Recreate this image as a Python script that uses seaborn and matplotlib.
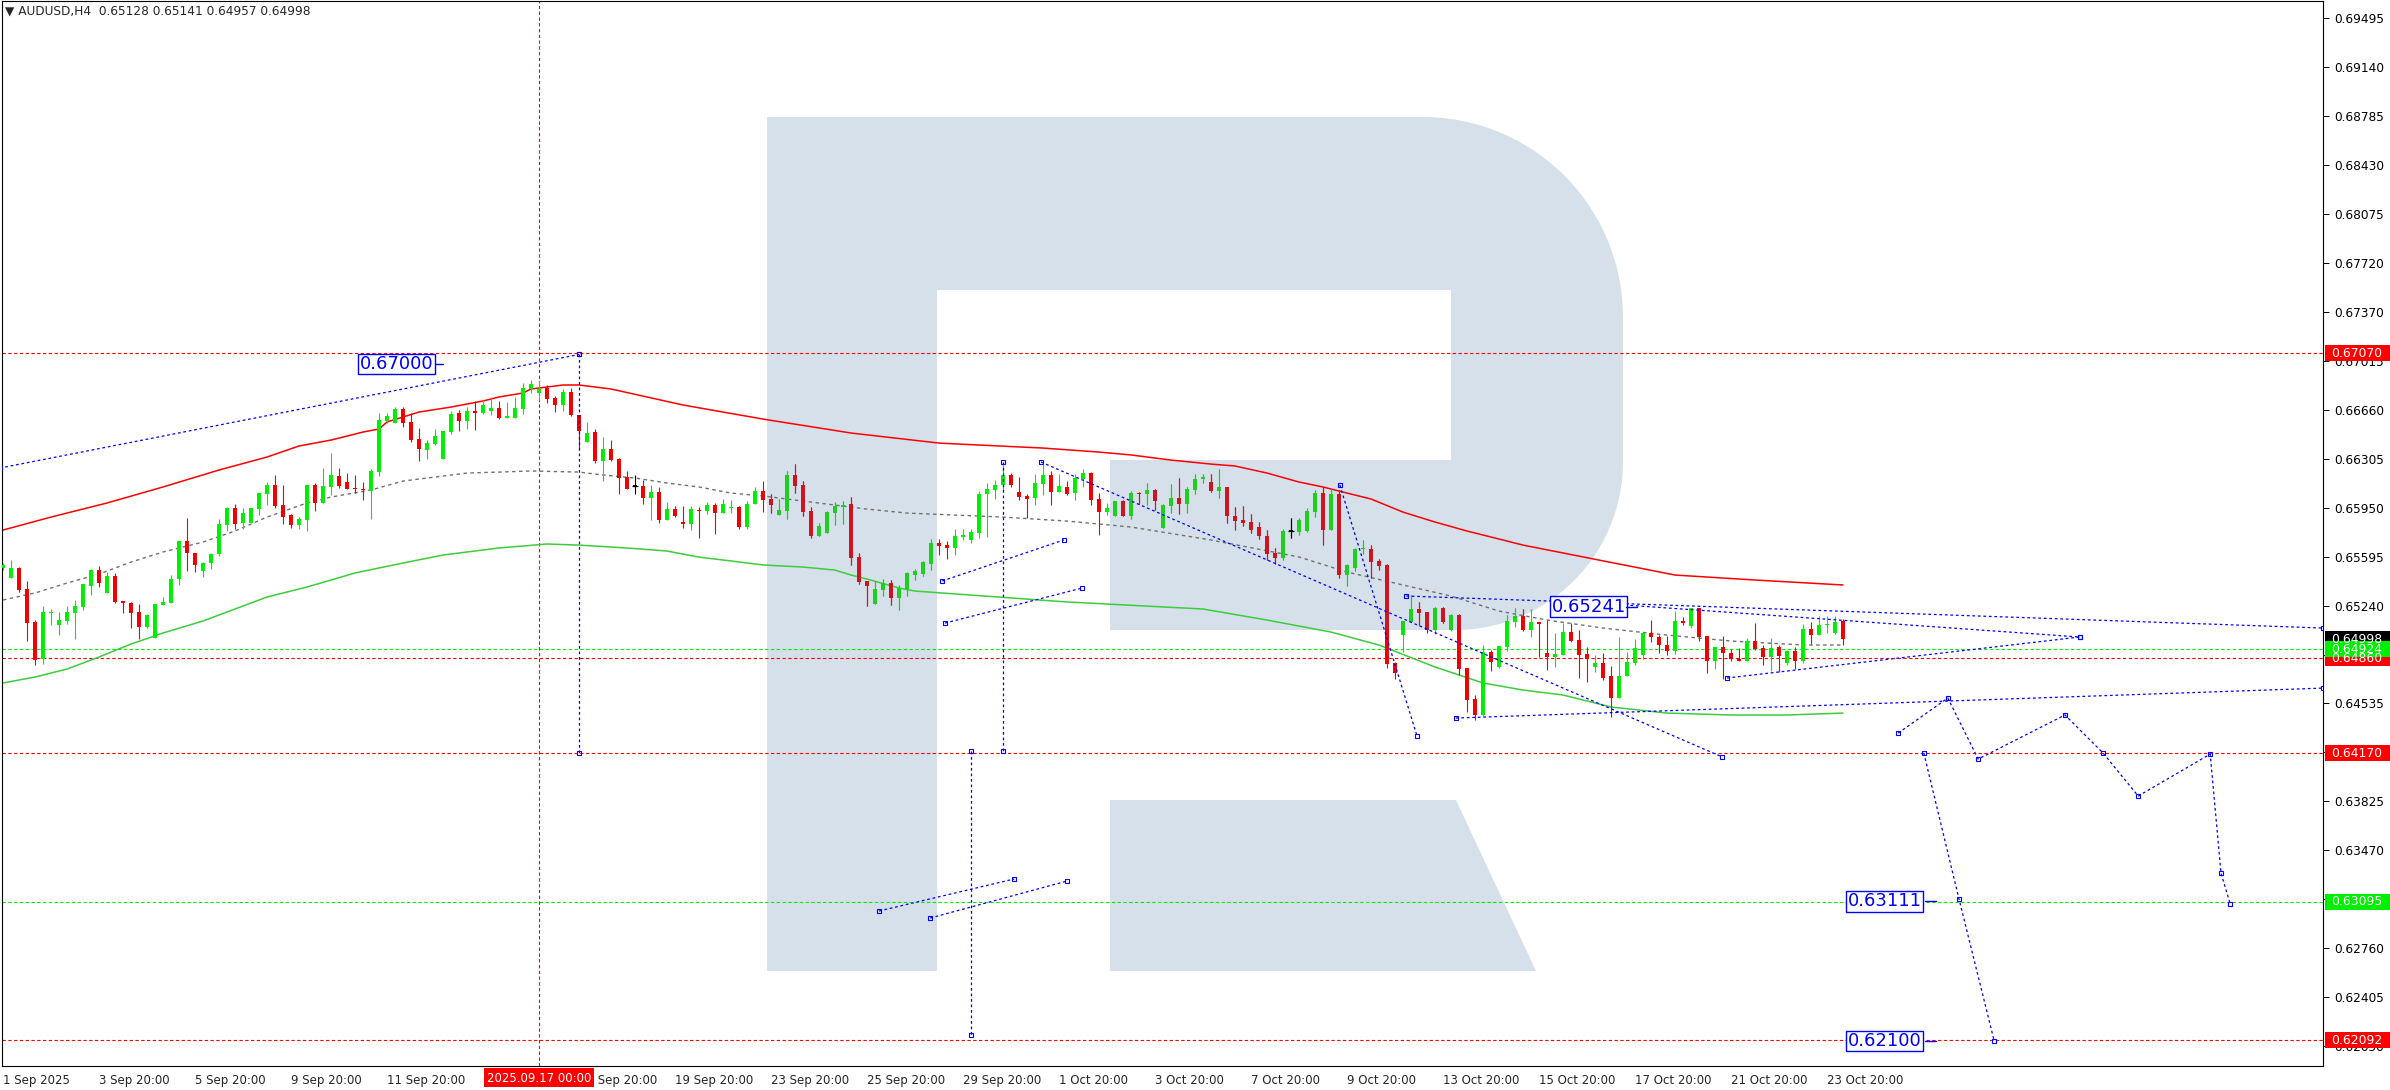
import numpy as np
import pandas as pd
import matplotlib
matplotlib.use("Agg")
import matplotlib.pyplot as plt
import matplotlib.transforms as mtransforms
from matplotlib.path import Path
from matplotlib.patches import PathPatch, Rectangle
import seaborn as sns

# ---------------------------------------------------------------- data
header_text = "\u25BC AUDUSD,H4  0.65128 0.65141 0.64957 0.64998"
PT = 1e-5  # prices below are given in points (0.00001)

open_pt = [65513,65440,65513,65361,65122,64854,65187,65100,65129,65187,65230,65382,65498,65332,65455,65274,65259,65194,65085,65006,
 65245,65259,65433,65708,65622,65491,65549,65614,65824,65948,65839,65839,65940,66049,66114,65969,65897,65824,65861,66114,
 65984,66100,66179,66136,66093,66085,66071,66208,66578,66563,66665,66571,66447,66368,66411,66303,66498,66636,66578,66650,
 66636,66650,66672,66600,66600,66665,66810,66781,66817,66745,66694,66788,66621,66426,66498,66288,66375,66303,66172,66107,
 66107,66020,66064,65861,65940,65846,65832,65933,65926,65969,65911,65948,65955,65810,65977,66071,66013,65897,65926,66187,
 66114,65926,65745,65766,65911,65955,65977,65593,65419,65252,65353,65404,65296,65361,65462,65469,65542,65694,65679,65657,
 65737,65716,65766,66049,66078,66114,66187,66064,66035,66020,66121,66187,66064,66100,66056,66158,66201,66013,65918,65890,
 65998,65890,66056,66049,66078,65803,65962,66020,65977,66078,66158,66136,66071,66100,65890,65861,65846,65810,65745,65622,
 65585,65781,65774,65781,65918,66056,65788,66049,65462,65513,65650,65650,65564,65535,64825,65027,65122,65216,65194,65064,
 65223,65064,65172,64789,64564,64448,64904,64796,64940,65122,65165,65064,65122,64897,64868,64883,65049,64991,64890,64796,
 64825,64730,64571,64730,64825,64883,65042,65013,64955,64912,65129,65093,65223,65020,64839,64940,64897,64854,64839,64984,
 64933,64868,64940,64825,64912,64839,65071,65027,65100,65042,65128]
high_pt = [65549,65571,65520,65419,65136,65238,65216,65194,65238,65281,65397,65506,65527,65484,65477,65274,65267,65252,65180,65252,
 65303,65462,65708,65875,65622,65556,65622,65868,65955,65977,65948,65948,66056,66136,66187,66114,65904,65882,66114,66129,
 66237,66346,66237,66201,66187,66136,66230,66636,66636,66679,66679,66636,66527,66440,66520,66505,66650,66658,66679,66723,
 66730,66752,66723,66716,66752,66853,66875,66875,66839,66759,66810,66817,66621,66571,66520,66462,66440,66310,66216,66187,
 66150,66114,66100,65991,65962,65962,65962,65955,65991,65984,66013,66006,65962,65998,66100,66143,66049,66013,66216,66266,
 66143,65955,65839,65926,65991,65998,66028,65622,65419,65419,65433,65426,65390,65484,65506,65564,65723,65723,65708,65795,
 65795,65795,66071,66129,66150,66259,66201,66172,66049,66194,66266,66216,66194,66143,66194,66230,66208,66056,65984,65998,
 66006,66071,66064,66129,66085,65977,66121,66165,66100,66194,66194,66194,66230,66100,65955,65962,65904,65846,65788,65658,
 65795,65875,65875,65948,66078,66100,66085,66078,65542,65658,65716,65679,65578,65542,64832,65129,65317,65267,65194,65230,
 65230,65180,65180,64789,64593,64955,64919,64948,65172,65223,65216,65216,65122,65136,65042,65114,65114,65064,64940,64883,
 64897,64803,65013,64904,64998,65042,65136,65027,65020,65201,65158,65223,65223,65020,64940,65020,64926,64933,65006,65114,
 64955,65006,64955,64919,64940,65107,65122,65165,65165,65165,65141]
low_pt = [65498,65440,65339,64984,64810,64817,65100,65027,65107,64998,65209,65317,65375,65332,65259,65187,65078,64998,65078,65006,
 65245,65259,65390,65491,65484,65448,65506,65600,65781,65795,65795,65839,65897,65969,65948,65832,65803,65795,65781,65926,
 65984,66042,66093,66085,66056,66006,65868,66179,66563,66563,66534,66426,66288,66303,66404,66303,66483,66505,66520,66513,
 66629,66621,66592,66600,66600,66629,66781,66730,66708,66643,66650,66614,66382,66426,66274,66143,66288,66049,66085,66049,
 65977,65861,65839,65861,65882,65803,65788,65730,65904,65759,65911,65911,65795,65795,65977,65918,65911,65897,65868,66056,
 65890,65730,65745,65766,65824,65832,65535,65397,65238,65252,65310,65245,65209,65310,65426,65455,65498,65607,65578,65607,
 65716,65694,65730,65737,66013,66078,66100,66006,65875,65969,66042,65969,66064,66042,66006,66100,65969,65752,65897,65890,
 65890,65868,65977,65969,65933,65803,65911,65904,65911,66049,66129,66064,66020,65839,65788,65817,65766,65723,65571,65542,
 65571,65730,65752,65774,65882,65679,65788,65440,65382,65491,65614,65440,65498,64788,64708,64904,65122,65100,65042,65035,
 65114,65056,64738,64470,64412,64440,64767,64788,64912,65085,65056,65013,64868,64774,64796,64883,64977,64716,64687,64759,
 64701,64433,64571,64730,64810,64854,64977,64897,64883,64890,65100,65078,64984,64752,64781,64708,64839,64839,64839,64919,
 64810,64767,64759,64810,64781,64825,64962,65027,65042,65035,64957]
close_pt = [65535,65513,65353,65114,64846,65194,65194,65136,65194,65238,65397,65498,65404,65455,65267,65259,65187,65085,65172,65252,
 65267,65433,65708,65622,65535,65549,65614,65832,65948,65832,65911,65948,66056,66114,65962,65882,65824,65868,66114,65984,
 66107,66187,66107,66085,66085,66078,66216,66585,66614,66665,66563,66440,66375,66418,66469,66505,66629,66578,66650,66636,
 66694,66672,66600,66614,66672,66817,66846,66810,66737,66694,66788,66621,66505,66491,66288,66375,66295,66165,66085,66107,
 66020,66064,65861,65940,65890,65832,65940,65926,65969,65911,65977,65955,65810,65977,66071,66006,65969,65933,66187,66107,
 65918,65745,65817,65918,65962,65969,65585,65412,65382,65361,65404,65296,65368,65477,65491,65556,65694,65672,65657,65745,
 65752,65774,66049,66085,66114,66187,66114,66027,66013,66129,66187,66064,66107,66049,66165,66201,66006,65918,65948,65998,
 65890,66056,66049,66078,65998,65969,66020,65977,66085,66158,66172,66071,66100,65890,65853,65839,65788,65745,65614,65585,
 65781,65781,65861,65926,66056,65788,66049,65462,65535,65650,65658,65556,65527,64817,64752,65129,65216,65187,65064,65223,
 65122,65172,64781,64557,64448,64904,64832,64948,65129,65165,65064,65122,65107,64868,64890,65049,64984,64883,64854,64825,
 64716,64571,64730,64832,64933,65042,65013,64955,64912,65129,65114,65223,65013,64839,64940,64897,64854,64839,64984,64926,
 64868,64933,64875,64912,64839,65071,65027,65100,65107,65122,64998]

# moving averages (bar index, points)
red_ma_bar = [0,6,13,20,27,33,37,41,45,47,48,50,52,56,60,62,65,66,70,72,76,85,95,106,117,122,130,137,141,146,
              151,154,158,162,165,168,171,175,179,183,187,190,209,219,230]
red_ma_pt = [65788,65882,65984,66100,66223,66317,66397,66440,66498,66520,66571,66607,66643,66679,66723,66752,66781,66810,66839,66839,
             66810,66694,66592,66491,66418,66404,66382,66353,66332,66295,66266,66252,66201,66136,66100,66056,66013,65918,65846,65781,
             65723,65679,65462,65426,65390]
green_ma_bar = [0,4,8,12,16,20,25,29,33,38,44,50,55,62,68,72,78,83,87,91,95,100,104,106,108,112,114,133,150,158,
                166,172,179,185,190,195,201,208,216,223,230]
green_ma_pt = [64680,64723,64781,64868,64962,65042,65129,65216,65303,65375,65477,65549,65607,65658,65687,65679,65658,65636,65592,65564,
               65535,65520,65498,65462,65433,65368,65346,65267,65216,65136,65049,64955,64796,64680,64629,64593,64506,64462,64448,64448,64462]
gray_ma_bar = [0,4,8,12,16,20,25,29,33,38,41,46,50,54,58,62,66,72,75,79,83,87,91,95,100,104,108,113,125,133,
               141,151,162,168,175,181,187,193,200,208,216,225,230]
gray_ma_pt = [65281,65332,65404,65469,65556,65629,65701,65781,65882,65984,66027,66078,66143,66172,66201,66208,66216,66208,66187,66165,
              66129,66100,66056,66035,65998,65969,65940,65911,65882,65853,65810,65716,65593,65484,65390,65310,65201,65136,65078,65027,
              64984,64955,64955]

# horizontal levels and right-axis value boxes
level_prices = [0.67070, 0.64924, 0.64860, 0.64170, 0.63095, 0.62092]
level_colors = ['#ff0000', '#00ee00', '#ff0000', '#ff0000', '#00ee00', '#ff0000']
box_prices = [0.67070, 0.64998, 0.64860, 0.64170, 0.62092, 0.64924, 0.63095]
box_colors = ['#ff0000', '#000000', '#ff0000', '#ff0000', '#ff0000', '#00ee00', '#00ee00']

ytick_labels = ["0.69495","0.69140","0.68785","0.68430","0.68075","0.67720","0.67370","0.67015","0.66660","0.66305",
                "0.65950","0.65595","0.65240","0.64885","0.64535","0.64180","0.63825","0.63470","0.63115","0.62760",
                "0.62405","0.62050"]
xtick_bars = [0,12,24,36,48,60,72,84,96,108,120,132,144,156,168,180,192,204,216,228]
xtick_labels = ["1 Sep 2025","3 Sep 20:00","5 Sep 20:00","9 Sep 20:00","11 Sep 20:00","15 Sep 20:00","17 Sep 20:00",
                "19 Sep 20:00","23 Sep 20:00","25 Sep 20:00","29 Sep 20:00","1 Oct 20:00","3 Oct 20:00","7 Oct 20:00",
                "9 Oct 20:00","13 Oct 20:00","15 Oct 20:00","17 Oct 20:00","21 Oct 20:00","23 Oct 20:00"]
crosshair_bar = 67
crosshair_label = "2025.09.17 00:00"

# analyst drawings: (bar, price) polylines
blue_lines = [
    ([-0.4, 72.0], [0.66237, 0.67060]),
    ([72.0, 72.0], [0.67060, 0.64170]),
    ([125.0, 125.0], [0.66281, 0.64187]),
    ([121.0, 121.0], [0.64187, 0.62129]),
    ([117.4, 132.6], [0.65419, 0.65716]),
    ([117.75, 134.9], [0.65114, 0.65368]),
    ([109.5, 126.4], [0.63028, 0.63260]),
    ([115.9, 133.0], [0.62977, 0.63245]),
    ([129.75, 214.9], [0.66281, 0.64144]),
    ([167.1, 176.75], [0.66114, 0.64296]),
    ([175.4, 290.0], [0.65310, 0.65078]),
    ([202.75, 259.6], [0.65245, 0.65013]),
    ([215.5, 259.6], [0.64716, 0.65013]),
    ([181.6, 290.0], [0.64426, 0.64643]),
]
forecast_bar = [236.9, 243.1, 246.9, 257.75, 262.5, 266.9, 275.9, 277.25, 278.4]
forecast_price = [0.64317, 0.64571, 0.64129, 0.64448, 0.64173, 0.63861, 0.64165, 0.63303, 0.63079]
drop_bar = [240.1, 244.5, 248.9]
drop_price = [0.64173, 0.63115, 0.62086]

tag_texts = ["0.67000", "0.65241", "0.63111", "0.62100"]
tag_bar = [44.6, 193.6, 230.6, 230.6]
tag_price = [0.66991, 0.65234, 0.63100, 0.62086]
tag_tail_bar = [(54.0, 55.0), (202.9, 204.2), (240.3, 241.6), (240.3, 241.6)]

# ---------------------------------------------------------------- figure
sns.set_style("white")
plt.rcParams['font.family'] = ['DejaVu Sans']

W, H = 2390, 1090
fig = plt.figure(figsize=(W / 100, H / 100), dpi=100)
ax = fig.add_axes([2 / W, 24 / H, 2321 / W, 1065 / H])
ax.set_xlim(-0.125, 290.0)
ax.set_ylim(0.61905, 0.69621)
pix = mtransforms.Affine2D().scale(1 / W, -1 / H).translate(0, 1) + fig.transFigure

# watermark "R"
def arc(cx, cy, r, a0, a1, n=30):
    t = np.radians(np.linspace(a0, a1, n))
    return list(zip(cx + r * np.cos(t), cy + r * np.sin(t)))

R1, R2 = 200, 168
outline = [(767, 117)] + arc(1623 - R1, 117 + R1, R1, -90, 0) + arc(1623 - R2, 630 - R2, R2, 0, 90) + \
          [(1110, 630), (1110, 460), (1451, 460), (1451, 290), (937, 290), (937, 971), (767, 971), (767, 117)]
leg = [(1110, 800), (1456, 800), (1536, 971), (1110, 971), (1110, 800)]
verts = outline + leg
codes = [Path.MOVETO] + [Path.LINETO] * (len(outline) - 2) + [Path.CLOSEPOLY] + \
        [Path.MOVETO] + [Path.LINETO] * (len(leg) - 2) + [Path.CLOSEPOLY]
wm = PathPatch(Path(verts, codes), transform=pix, facecolor='#d6e0ea', edgecolor='none', zorder=0.5)
ax.add_patch(wm)

# horizontal levels & crosshair
for p, c in zip(level_prices, level_colors):
    ax.axhline(p, color=c, lw=0.8, ls=(0, (3, 2.2)), zorder=1)
ax.axvline(crosshair_bar, color='#ff0000', lw=0.8, ls=(0, (3, 2.2)), zorder=1)

# moving averages
for bars, pts, col, ls, lw in [(red_ma_bar, red_ma_pt, '#ff0000', '-', 1.1),
                               (green_ma_bar, green_ma_pt, '#3ccc3c', '-', 1.1),
                               (gray_ma_bar, gray_ma_pt, '#707070', (0, (2.5, 2.5)), 1.0)]:
    df = pd.DataFrame({'bar': bars, 'price': np.array(pts) * PT})
    sns.lineplot(data=df, x='bar', y='price', color=col, lw=lw, linestyle=ls, ax=ax,
                 estimator=None, sort=False, zorder=2)

# candles
o = np.array(open_pt) * PT
h = np.array(high_pt) * PT
l = np.array(low_pt) * PT
c = np.array(close_pt) * PT
x = np.arange(len(o))
bull, bear, doji = c > o, c < o, c == o
cols = np.where(bull, '#00ee00', np.where(bear, '#f00000', '#000000'))
dark = np.where(bull, '#1fcf1f', np.where(bear, '#cc1520', '#000000'))
bottom = np.minimum(o, c)
height = np.maximum(np.abs(c - o), 0.00007)
for colset, clip in [(cols, False), (dark, True)]:
    vl = ax.vlines(x, l, h, colors=colset, lw=0.8, zorder=3)
    bc = ax.bar(x, height, bottom=bottom, width=0.62, color=colset, linewidth=0, zorder=4)
    if clip:
        vl.set_clip_path(wm)
        for b in bc:
            b.set_clip_path(wm)
# doji crosses
ax.hlines(o[doji], x[doji] - 0.4, x[doji] + 0.4, colors='#000000', lw=0.9, zorder=4)

# analyst drawings
for bars, prices in blue_lines:
    ax.plot(bars, prices, color='#0000ff', lw=0.9, ls=(0, (2.2, 2.2)), zorder=5,
            marker='s', ms=3.2, mfc='none', mec='#0000ff', mew=0.8)
ax.plot(forecast_bar, forecast_price, color='#0000ff', lw=0.9, ls=(0, (2.2, 2.2)), zorder=5,
        marker='s', ms=3.2, mfc='none', mec='#0000ff', mew=0.8)
ax.plot(drop_bar, drop_price, color='#0000ff', lw=0.9, ls=(0, (2.2, 2.2)), zorder=5,
        marker='s', ms=3.2, mfc='none', mec='#0000ff', mew=0.8)
for t, xb, pr, tail in zip(tag_texts, tag_bar, tag_price, tag_tail_bar):
    ax.text(xb, pr, t, color='#0000ff', fontsize=13, va='center', ha='left', zorder=6,
            bbox=dict(boxstyle='square,pad=0.08', fc='white', ec='#0000ff', lw=1.0))
    ax.plot(list(tail), [pr, pr], color='#0000ff', lw=1.0, zorder=6)

# axes styling
for s in ax.spines.values():
    s.set_color('black')
    s.set_linewidth(0.8)
ax.set_xlabel('')
ax.set_ylabel('')
ax.yaxis.tick_right()
ax.set_yticks([float(v) for v in ytick_labels])
ax.set_yticklabels(ytick_labels)
ax.tick_params(axis='y', direction='out', length=4, width=0.7, pad=4, labelsize=8.7, colors='black')
ax.set_xticks(xtick_bars)
ax.set_xticklabels(xtick_labels)
ax.tick_params(axis='x', direction='out', length=4, width=0.7, pad=2, labelsize=8.5)
for lbl in ax.get_xticklabels():
    lbl.set_ha('left')

# header
fig.text(5 / W, 1 - 11 / H, header_text, fontsize=8.7, va='center', ha='left')

# right-axis value boxes
for p, col in zip(box_prices, box_colors):
    yd = ax.transData.transform((0, p))[1]
    ypix = H - yd
    fig.add_artist(Rectangle((2325, ypix - 8), 65, 16, transform=pix, facecolor=col, edgecolor='none', zorder=10))
    fig.text(2331 / W, 1 - ypix / H, f"{p:.5f}", color='white', fontsize=8.9, va='center', ha='left', zorder=11)

# crosshair time box
xd = ax.transData.transform((crosshair_bar, 0))[0]
fig.add_artist(Rectangle((xd - 55, 1068), 110, 19, transform=pix, facecolor='#ff0000', edgecolor='none', zorder=10))
fig.text(xd / W, 1 - 1078 / H, crosshair_label, color='white', fontsize=8.5, va='center', ha='center', zorder=11)

fig.savefig("out.png", dpi=100, facecolor='white')
